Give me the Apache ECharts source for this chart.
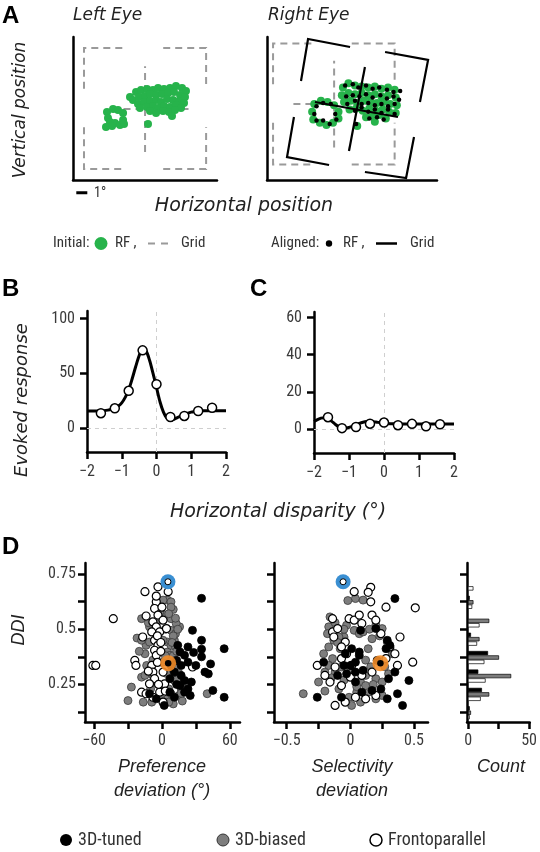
<!DOCTYPE html>
<html><head><meta charset="utf-8">
<script src="https://cdn.jsdelivr.net/npm/echarts@6/dist/echarts.min.js"></script>
<style>html,body{margin:0;padding:0;background:#fff}#c{width:540px;height:852px}</style>
</head><body><div id="c"></div>
<script>
// ---------------- Panel A (positions in degrees) ----------------
const leftInitialRF = [
 [3.09,6.18],[3.64,6.45],[4.09,6.36],[4.55,6.09],[3.18,5.64],[4.55,5.45],[3.36,5.27],[3.82,5.18],[4.27,5.0],[4.64,5.09],[3.0,4.82],[3.55,4.91],
 [6.82,5.09],
 [5.18,7.55],[5.73,8.0],[6.18,8.18],[6.73,8.27],[7.27,8.18],[7.73,8.36],[8.27,8.27],[8.82,8.36],[9.36,8.55],[9.91,8.36],[10.27,8.09],
 [5.45,7.27],[6.0,7.55],[6.55,7.64],[7.0,7.82],[7.55,7.73],[8.09,7.82],[8.64,7.91],[9.18,8.0],[9.73,7.73],[10.18,7.55],
 [5.91,6.91],[6.45,7.09],[7.0,7.18],[7.55,7.27],[8.0,7.09],[8.55,7.36],[9.09,7.27],[9.64,7.18],[10.09,7.0],
 [6.09,6.55],[6.73,6.64],[7.27,6.73],[7.73,6.55],[8.27,6.73],[8.82,6.64],[9.36,6.82],[9.82,6.55],
 [7.0,6.27],[7.55,6.09],[8.18,6.27],[8.73,6.18],[9.27,6.36],[9.0,5.82]
];
const rightInitialRF = [
 [4.3,6.9],[4.9,7.2],[5.5,7.1],[6.1,6.8],[4.1,6.2],[6.5,6.2],[4.2,5.5],[4.8,5.2],[5.4,5.0],[6.0,5.2],[6.5,5.6],
 [8.2,4.9],
 [6.9,8.4],[7.4,8.8],[8.0,8.6],[8.6,8.5],[9.2,8.4],[9.8,8.5],[10.4,8.3],[11.0,8.4],[11.6,8.2],
 [6.8,7.7],[7.4,7.9],[8.0,7.8],[8.6,7.9],[9.2,7.7],[9.8,7.8],[10.4,7.6],[11.0,7.7],[11.7,7.5],
 [7.0,7.1],[7.6,7.2],[8.2,7.0],[8.8,7.2],[9.4,7.1],[10.0,7.0],[10.6,7.1],[11.2,6.9],[11.8,6.8],
 [7.5,6.4],[8.1,6.5],[8.7,6.3],[9.3,6.5],[9.9,6.3],[10.5,6.4],[11.1,6.2],[11.7,6.1],
 [9.0,5.7],[9.6,5.8],[10.2,5.9],[10.8,5.6],[9.8,5.3]
];
const rightAlignedRF = [
 [4.5,6.7],[5.1,7.0],[5.8,6.9],[4.3,6.0],[6.2,6.0],[4.5,5.4],[5.1,5.4],[5.7,5.1],[6.3,5.5],
 [8.1,5.1],
 [7.1,8.6],[7.8,8.7],[8.3,8.4],[9.0,8.6],[9.6,8.3],[10.2,8.4],[10.9,8.2],[11.5,8.0],[12.1,8.1],
 [7.2,7.6],[7.8,7.7],[8.4,7.6],[9.0,7.8],[9.6,7.5],[10.3,7.7],[10.9,7.4],[11.5,7.6],[12.0,7.3],
 [7.3,6.9],[8.0,7.2],[8.6,6.9],[9.2,7.0],[9.8,6.8],[10.4,6.9],[11.0,6.7],[11.6,6.9],
 [8.0,6.3],[8.6,6.6],[9.2,6.2],[9.8,6.4],[10.4,6.1],[11.0,6.4],[11.6,6.0],
 [9.3,5.6],[10.0,5.7],[10.6,5.5]
];
const leftInitialGrid = [
 [[1,8.3],[1,12],[4.7,12]], [[8.2,12],[12.1,12],[12.1,8.3]],
 [[1,4.8],[1,1],[4.7,1]], [[8.2,1],[12.1,1],[12.1,4.8]],
 [[6.55,2.55],[6.55,10.35]], [[3.5,6.45],[10.5,6.45]]
];
const rightInitialGrid = [
 [[0.55,8.7],[0.55,12.4],[4.2,12.4]], [[7.7,12.4],[11.6,12.4],[11.6,8.7]],
 [[0.55,5.2],[0.55,1.4],[4.2,1.4]], [[7.7,1.4],[11.6,1.4],[11.6,5.2]],
 [[6.1,2.95],[6.1,10.85]], [[2.4,6.9],[9.9,6.9]]
];
const rightAlignedGrid = [
 [[3.09,9.0],[3.73,12.82],[7.55,12.09]], [[10.73,11.64],[14.64,10.91],[13.9,7.09]],
 [[2.45,5.73],[1.82,2.09],[5.64,1.36]], [[8.9,0.73],[12.64,0.18],[13.36,3.91]],
 [[8.9,10.27],[7.45,2.64]], [[4.36,7.09],[11.9,5.73]]
];
const scaleBar = [[0.3,-1.15],[1.3,-1.15]];

// ---------------- Panels B, C ----------------
const disparityFine = [-2.0,-1.9,-1.8,-1.7,-1.6,-1.5,-1.4,-1.3,-1.2,-1.1,-1.0,-0.9,-0.8,-0.7,-0.6,-0.5,-0.4,-0.3,-0.2,-0.1,0,0.1,0.2,0.3,0.4,0.5,0.6,0.7,0.8,0.9,1.0,1.1,1.2,1.3,1.4,1.5,1.6,1.7,1.8,1.9,2.0];
const curveB = [15.5,15.5,15.5,15.5,15.6,15.8,16.3,17,18,20,23,28,35,45,56,66,72.5,70.5,62,50,37,24,14.5,9,7.5,8,9.5,11,12.5,13.5,14.5,15,15.5,15.8,15.8,15.8,15.8,15.8,15.8,15.8,15.8];
const curveC = [4,5,5.8,6,5.5,4.2,2.6,1.2,0.5,0.4,0.8,1.5,2.2,3.0,3.6,4.0,4.1,3.9,3.6,3.3,3.1,2.9,2.8,2.7,2.7,2.6,2.6,2.6,2.6,2.6,2.6,2.6,2.6,2.6,2.6,2.6,2.6,2.6,2.6,2.6,2.6];
const disparitySampled = [-1.6,-1.2,-0.8,-0.4,0,0.4,0.8,1.2,1.6];
const responseB = [13.5,18,34,71,40,10,11,15.5,18.5];
const responseC = [6.3,0.4,1.0,2.8,3.4,2.0,2.7,1.4,2.5];
const xTicksBC = [-2,-1,0,1,2];
const yTicksB = [0,50,100];
const yTicksC = [0,20,40,60];

// ---------------- Panel D ----------------
const tunedPref = [[35,0.64],[27,0.495],[35,0.45],[55,0.412],[23,0.42],[35,0.41],[16,0.397],[20,0.382],[35,0.375],[13,0.359],[23,0.351],[30,0.336],[43,0.343],[38,0.306],[41,0.298],[17,0.336],[8,0.336],[11,0.306],[17,0.291],[20,0.268],[16,0.245],[23,0.23],[20,0.215],[45,0.223],[55,0.192],[-11,0.208],[-5,0.185],[2,0.155],[7,0.215],[11,0.192],[26,0.261],[7,0.276],[14,0.427],[28,0.395],[13,0.25],[25,0.2]];
const biasedPref = [[5,0.632],[1,0.632],[8,0.624],[-18,0.548],[-11,0.511],[2.4,0.564],[8,0.548],[15.6,0.511],[12.6,0.526],[-14,0.427],[-11,0.442],[-15,0.389],[-13.5,0.336],[-18,0.283],[-30,0.177],[-16.5,0.17],[-27,0.238],[5,0.442],[5,0.397],[7,0.382],[14,0.291],[12.6,0.261],[5,0.185],[8,0.208],[40,0.208],[17,0.23],[1,0.245],[-3.5,0.427],[-5,0.526],[11,0.45],[8,0.427],[9.7,0.336],[11,0.268],[-15,0.291],[1,0.45],[8,0.495],[-8,0.291],[10,0.162],[-6,0.6],[-2,0.575],[10,0.59],[12,0.48],[-20,0.4],[-22,0.46],[3,0.5],[6,0.36],[10,0.38],[12,0.36],[9,0.31],[4,0.3],[-10,0.23],[-6,0.26],[15,0.2],[18,0.175],[6,0.17],[-2,0.2],[12,0.42],[10,0.47],[-8,0.36],[0,0.35],
 [8,0.6],[6,0.57],[12,0.55],[14,0.5],[9,0.44],[13,0.4],[11,0.33],[15,0.3],[13,0.27],[6,0.23],[-12,0.53],[-18,0.45],[3,0.38],[17,0.21],[-9,0.17],[20,0.25]];
const frontoPref = [[-61,0.336],[-58.5,0.336],[-43,0.548],[-15,0.67],[-3.5,0.692],[5.5,0.67],[-5,0.624],[-6.5,0.594],[-3.5,0.564],[-8,0.533],[-5,0.511],[-2,0.488],[-17,0.465],[-6.5,0.45],[-3.5,0.427],[-6.5,0.405],[-5,0.382],[-24,0.359],[-23,0.336],[-9,0.336],[-8,0.306],[1,0.306],[-6.5,0.276],[-11,0.253],[2.4,0.253],[-18,0.215],[-14,0.208],[-2,0.215],[-8,0.192],[1,0.17],[27,0.329],[4,0.503],[1,0.541],[-9,0.488],[-4,0.47],[-1,0.4],[-4,0.35],[-12,0.31],[-3,0.25],[-14,0.56],[0,0.6],[-5,0.65],[3,0.22],[-1,0.44]];

const tunedSel = [[0.35,0.639],[0.2,0.503],[0.08,0.495],[0.29,0.45],[0.31,0.427],[0.01,0.412],[0.07,0.397],[0.04,0.351],[0,0.336],[-0.05,0.336],[-0.03,0.298],[0.04,0.306],[0.1,0.314],[-0.21,0.351],[-0.1,0.291],[-0.07,0.192],[0.04,0.261],[0.09,0.215],[0.17,0.223],[0.24,0.23],[0.3,0.276],[0.35,0.306],[-0.26,0.192],[0.29,0.185],[0.37,0.208],[0.41,0.155],[0.21,0.359],[0.07,0.382],[0.46,0.268],[0.28,0.412],[-0.04,0.389]];
const biasedSel = [[0.04,0.639],[0.1,0.632],[-0.16,0.556],[-0.17,0.511],[-0.13,0.45],[-0.05,0.465],[0.03,0.495],[0.07,0.48],[0.1,0.488],[0.2,0.518],[0.25,0.503],[0.29,0.442],[0.31,0.412],[-0.17,0.42],[-0.21,0.389],[-0.14,0.367],[-0.25,0.261],[-0.2,0.306],[-0.12,0.306],[-0.07,0.329],[0,0.306],[0.08,0.261],[0.12,0.291],[0.2,0.276],[0.25,0.261],[-0.37,0.208],[0.08,0.17],[0.01,0.155],[0.2,0.185],[0.14,0.215],[-0.09,0.23],[-0.01,0.192],[0.05,0.215],[0.33,0.389],[0.3,0.298],[-0.09,0.465],[0.14,0.412],[-0.17,0.336],[0.12,0.245],[-0.08,0.412],[0.17,0.457],[-0.03,0.518],
 [-0.12,0.53],[-0.05,0.5],[0.15,0.5],[0.23,0.47],[-0.1,0.44],[-0.18,0.48],[0.12,0.36],[0.16,0.33],[-0.15,0.28],[-0.05,0.27],[0.18,0.25],[0.25,0.2],[-0.2,0.22],[0.05,0.24],[0.27,0.33],[-0.02,0.63]];
const frontoSel = [[0.03,0.67],[0.16,0.69],[0.14,0.667],[0.28,0.6],[0.51,0.597],[0.16,0.624],[-0.14,0.548],[-0.14,0.488],[-0.13,0.465],[-0.01,0.548],[0.03,0.541],[0.09,0.526],[0.17,0.564],[0.2,0.541],[0.39,0.465],[0.31,0.42],[0.35,0.389],[0.49,0.351],[0.37,0.336],[-0.04,0.442],[-0.07,0.42],[-0.03,0.389],[-0.26,0.336],[-0.2,0.291],[-0.16,0.261],[-0.07,0.245],[0,0.283],[-0.12,0.155],[-0.04,0.17],[0.04,0.192],[0.12,0.185],[0.2,0.2],[0.09,0.291],[0.01,0.336],[-0.1,0.503],[0.07,0.564],[0.24,0.48],[-0.12,0.329],[0.17,0.306],[0.28,0.367],[-0.07,0.367]];

const highlightBlue = {pref: 5.3, sel: -0.057, ddi: 0.715};
const highlightOrange = {pref: 5.5, sel: 0.236, ddi: 0.346};

const ddiBins = [0.122,0.205,0.288,0.372,0.455,0.538,0.622,0.705];
const tunedCounts  = [1,11,8,16,2,0,1,0];
const biasedCounts = [2,17,35,25,9,17,4,0];
const frontoCounts = [1,10,14,13,7,9,3,4];

const ddiTicks = [0.125,0.25,0.375,0.5,0.625,0.75];
const ddiLabels = [0.25,0.5,0.75];
const prefTicks = [-60,-30,0,30,60], prefLabels = [-60,0,60];
const selTicks = [-0.5,-0.25,0,0.25,0.5], selLabels = [-0.5,0,0.5];
const countTicks = [0,25,50], countLabels = [0,50];

// ---------------- styling ----------------
const NARROW = "'Liberation Sans Narrow','Arial Narrow','Roboto Condensed','DejaVu Sans Condensed','Liberation Sans',sans-serif";
const SANS = "'Liberation Sans',Arial,sans-serif";
const WIDE = "'DejaVu Sans',sans-serif";
const GREEN = '#27b34b', GRAY = '#7d7d7d';
const fmt = v => (v < 0 ? '\u2212' + String(Math.abs(v)) : String(v));

function axis(gridIndex, min, max, o) {
  o = o || {};
  return {
    type: 'value', gridIndex, min, max,
    axisLine: {show: true, onZero: false, lineStyle: {color: '#000', width: 2.5}},
    axisTick: o.ticks ? {show: true, customValues: o.ticks, length: 7, lineStyle: {color: '#000', width: 2.5}} : {show: false},
    axisLabel: o.labels ? {show: true, customValues: o.labels, margin: o.margin || 11, color: '#3a3a3a',
      fontFamily: NARROW, fontSize: 16, formatter: fmt} : {show: false},
    splitLine: {show: false}
  };
}

const grids = [
  {left: 73, top: 37, width: 144, height: 143},   // A left
  {left: 267, top: 37, width: 170, height: 143},  // A right
  {left: 87, top: 311, width: 139, height: 141},  // B
  {left: 314, top: 312, width: 140, height: 141}, // C
  {left: 85, top: 563, width: 155, height: 159},  // D pref
  {left: 274, top: 563, width: 154, height: 159}, // D sel
  {left: 467, top: 563, width: 65, height: 159}   // D hist
];
const xAxes = [
  axis(0, 0, 13.09), axis(1, 0, 15.45),
  axis(2, -2, 2, {ticks: xTicksBC, labels: xTicksBC, margin: 12}),
  axis(3, -2, 2, {ticks: xTicksBC, labels: xTicksBC, margin: 12}),
  axis(4, -68, 69, {ticks: prefTicks, labels: prefLabels, margin: 11}),
  axis(5, -0.6, 0.61, {ticks: selTicks, labels: selLabels, margin: 11}),
  axis(6, -1, 50.5, {ticks: countTicks, labels: countLabels, margin: 11})
];
const yAxes = [
  axis(0, 0, 13), axis(1, 0, 13),
  axis(2, -22, 107, {ticks: yTicksB, labels: yTicksB, margin: 12}),
  axis(3, -13, 63, {ticks: yTicksC, labels: yTicksC, margin: 12}),
  axis(4, 0.08, 0.80, {ticks: ddiTicks, labels: ddiLabels, margin: 9}),
  axis(5, 0.08, 0.80, {ticks: ddiTicks}),
  axis(6, 0.08, 0.80, {ticks: ddiTicks})
];

function gridLines(idx, segs, color, width, dash, z) {
  return {type: 'lines', coordinateSystem: 'cartesian2d', xAxisIndex: idx, yAxisIndex: idx, polyline: true,
    silent: true, z, data: segs.map(c => ({coords: c})),
    lineStyle: {color, width, type: dash || 'solid', opacity: 1}};
}
function dots(idx, data, size, fill, stroke, bw, z, name) {
  return {type: 'scatter', name, xAxisIndex: idx, yAxisIndex: idx, data, symbolSize: size, silent: true, z,
    itemStyle: {color: fill, borderColor: stroke, borderWidth: bw, opacity: 1}};
}
function tuning(idx, xs, curve, samples, resp) {
  return [
    {type: 'line', xAxisIndex: idx, yAxisIndex: idx, data: xs.map((x, i) => [x, curve[i]]), smooth: 0.3,
     showSymbol: false, silent: true, z: 3, lineStyle: {color: '#000', width: 3},
     markLine: {silent: true, symbol: 'none', label: {show: false}, z: 1,
       lineStyle: {color: '#cfcfcf', type: [4, 4], width: 1}, data: [{xAxis: 0}, {yAxis: 0}]}},
    dots(idx, samples.map((x, i) => [x, resp[i]]), 9, '#fff', '#000', 1.5, 4)
  ];
}
const histData = [];
ddiBins.forEach((b, i) => {
  histData.push([tunedCounts[i], b, 0]);
  histData.push([biasedCounts[i], b, 1]);
  histData.push([frontoCounts[i], b, 2]);
});

const series = [
  gridLines(0, leftInitialGrid, '#9a9a9a', 2, [7, 5], 1),
  dots(0, leftInitialRF, 8, GREEN, GREEN, 0, 3),
  {type: 'line', xAxisIndex: 0, yAxisIndex: 0, data: scaleBar, clip: false, showSymbol: false, silent: true,
   lineStyle: {color: '#000', width: 3}},
  gridLines(1, rightInitialGrid, '#9a9a9a', 2, [7, 5], 1),
  dots(1, rightInitialRF, 8, GREEN, GREEN, 0, 3),
  gridLines(1, rightAlignedGrid, '#000', 2.2, 'solid', 4),
  dots(1, rightAlignedRF, 4.5, '#000', '#000', 0, 5),
  ...tuning(2, disparityFine, curveB, disparitySampled, responseB),
  ...tuning(3, disparityFine, curveC, disparitySampled, responseC),
  dots(4, biasedPref, 8, GRAY, '#3a3a3a', 0.8, 3, '3D-biased'),
  dots(4, frontoPref, 8, '#fff', '#000', 1.2, 4, 'Frontoparallel'),
  dots(4, tunedPref, 8, '#000', '#000', 0.8, 5, '3D-tuned'),
  dots(4, [[highlightBlue.pref, highlightBlue.ddi]], 15, '#3a8fd2', '#3a8fd2', 0, 6),
  dots(4, [[highlightBlue.pref, highlightBlue.ddi]], 6, '#fff', '#000', 1, 7),
  dots(4, [[highlightOrange.pref, highlightOrange.ddi]], 16, 'rgba(242,140,40,0.9)', 'rgba(242,140,40,0.9)', 0, 6),
  dots(4, [[highlightOrange.pref, highlightOrange.ddi]], 6.5, '#000', '#000', 0, 7),
  dots(5, biasedSel, 8, GRAY, '#3a3a3a', 0.8, 3, '3D-biased'),
  dots(5, frontoSel, 8, '#fff', '#000', 1.2, 4, 'Frontoparallel'),
  dots(5, tunedSel, 8, '#000', '#000', 0.8, 5, '3D-tuned'),
  dots(5, [[highlightBlue.sel, highlightBlue.ddi]], 15, '#3a8fd2', '#3a8fd2', 0, 6),
  dots(5, [[highlightBlue.sel, highlightBlue.ddi]], 6, '#fff', '#000', 1, 7),
  dots(5, [[highlightOrange.sel, highlightOrange.ddi]], 16, 'rgba(242,140,40,0.9)', 'rgba(242,140,40,0.9)', 0, 6),
  dots(5, [[highlightOrange.sel, highlightOrange.ddi]], 6.5, '#000', '#000', 0, 7),
  {type: 'custom', xAxisIndex: 6, yAxisIndex: 6, data: histData, encode: {x: 0, y: 1}, silent: true, z: 3,
   renderItem: function (params, api) {
     const c = api.value(0);
     if (!c) return {type: 'group', children: []};
     const p0 = api.coord([0, api.value(1)]);
     const p1 = api.coord([c, api.value(1)]);
     const k = api.value(2);
     const off = (k - 1) * 4.4;
     return {type: 'rect', shape: {x: p0[0], y: p0[1] + off - 1.8, width: p1[0] - p0[0], height: 3.6},
       style: {fill: ['#000', GRAY, '#fff'][k], stroke: '#000', lineWidth: 0.7}};
   }}
];

function txt(text, x, y, font, o) {
  o = o || {};
  return {type: 'text', x, y, rotation: o.rot || 0, silent: true, z: 10,
    style: {text, font, fill: o.fill || '#222', align: o.align || 'left', verticalAlign: 'middle'}};
}
const LETTER = 'bold 24px ' + SANS;
const graphics = [
  txt('A', 2, 16.5, LETTER, {fill: '#000'}),
  txt('B', 2, 289, LETTER, {fill: '#000'}),
  txt('C', 250, 289.5, LETTER, {fill: '#000'}),
  txt('D', 2, 547, LETTER, {fill: '#000'}),
  txt('Left Eye', 73, 16, 'italic 17px ' + WIDE),
  txt('Right Eye', 268, 16, 'italic 17px ' + WIDE),
  txt('Vertical position', 21, 110, 'italic 17px ' + WIDE, {align: 'center', rot: Math.PI / 2}),
  txt('Horizontal position', 244, 206, 'italic 19px ' + WIDE, {align: 'center'}),
  txt('1\u00b0', 94, 193, '14px ' + NARROW, {fill: '#333'}),
  // Panel A legend
  txt('Initial:', 53, 243.5, '15px ' + NARROW, {fill: '#333'}),
  {type: 'circle', shape: {cx: 101, cy: 243.5, r: 6.5}, style: {fill: GREEN}, silent: true},
  txt('RF ,', 115, 243.5, '15px ' + NARROW, {fill: '#333'}),
  {type: 'line', shape: {x1: 148, y1: 243.5, x2: 170, y2: 243.5}, style: {stroke: '#9a9a9a', lineWidth: 2, lineDash: [7, 6]}, silent: true},
  txt('Grid', 181, 243.5, '15px ' + NARROW, {fill: '#333'}),
  txt('Aligned:', 271, 243.5, '15px ' + NARROW, {fill: '#333'}),
  {type: 'circle', shape: {cx: 329, cy: 243.5, r: 3.2}, style: {fill: '#000'}, silent: true},
  txt('RF ,', 343, 243.5, '15px ' + NARROW, {fill: '#333'}),
  {type: 'line', shape: {x1: 376, y1: 243.5, x2: 397, y2: 243.5}, style: {stroke: '#000', lineWidth: 2.5}, silent: true},
  txt('Grid', 410, 243.5, '15px ' + NARROW, {fill: '#333'}),
  // B/C titles
  txt('Evoked response', 22, 400, 'italic 18px ' + WIDE, {align: 'center', rot: Math.PI / 2}),
  txt('Horizontal disparity (\u00b0)', 278, 512, 'italic 19px ' + WIDE, {align: 'center'}),
  // D titles
  txt('DDI', 19, 630, 'italic 18px ' + SANS, {align: 'center', rot: Math.PI / 2}),
  txt('Preference', 162, 767, 'italic 18px ' + SANS, {align: 'center'}),
  txt('deviation (\u00b0)', 162, 791, 'italic 18px ' + SANS, {align: 'center'}),
  txt('Selectivity', 352, 767, 'italic 18px ' + SANS, {align: 'center'}),
  txt('deviation', 352, 791, 'italic 18px ' + SANS, {align: 'center'}),
  txt('Count', 501, 767, 'italic 18px ' + SANS, {align: 'center'}),
  // bottom legend
  {type: 'circle', shape: {cx: 66, cy: 840, r: 6}, style: {fill: '#000'}, silent: true},
  txt('3D-tuned', 78, 840, '18px ' + NARROW, {fill: '#333'}),
  {type: 'circle', shape: {cx: 223, cy: 840, r: 6}, style: {fill: GRAY, stroke: '#333', lineWidth: 1}, silent: true},
  txt('3D-biased', 235, 840, '18px ' + NARROW, {fill: '#333'}),
  {type: 'circle', shape: {cx: 376, cy: 840, r: 6}, style: {fill: '#fff', stroke: '#000', lineWidth: 1.5}, silent: true},
  txt('Frontoparallel', 388, 840, '18px ' + NARROW, {fill: '#333'})
];

const chart = echarts.init(document.getElementById('c'), null, {renderer: 'canvas', width: 540, height: 852});
chart.setOption({
  animation: false,
  backgroundColor: '#fff',
  grid: grids,
  xAxis: xAxes,
  yAxis: yAxes,
  series,
  graphic: graphics
});
</script></body></html>
